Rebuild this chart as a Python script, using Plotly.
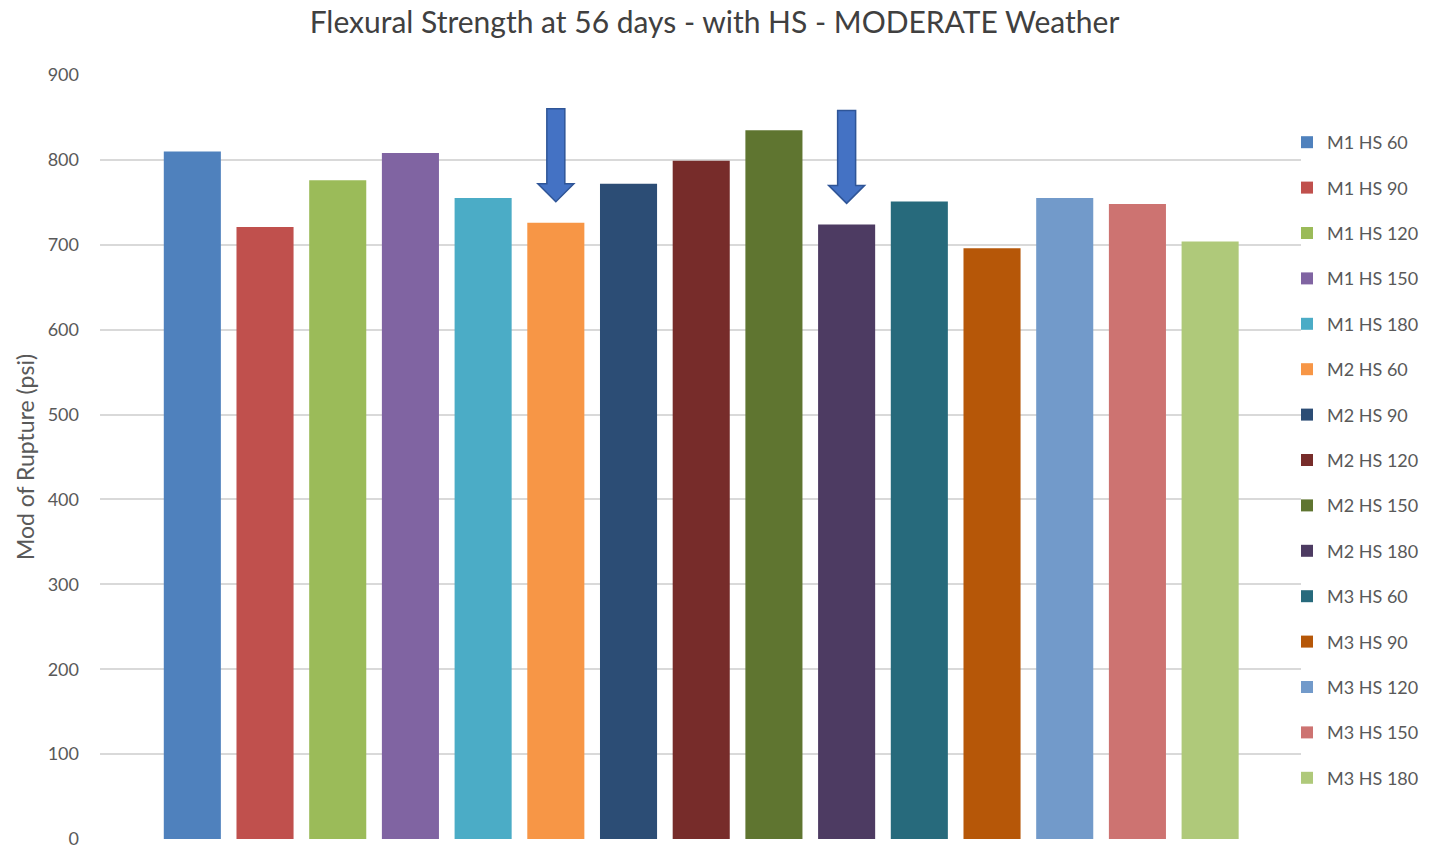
import plotly.graph_objects as go

# Mixes and their 56-day modulus of rupture (psi)
mixes = ["M1 HS 60", "M1 HS 90", "M1 HS 120", "M1 HS 150", "M1 HS 180",
         "M2 HS 60", "M2 HS 90", "M2 HS 120", "M2 HS 150", "M2 HS 180",
         "M3 HS 60", "M3 HS 90", "M3 HS 120", "M3 HS 150", "M3 HS 180"]
rupture_psi = [810, 721, 776, 808, 755,
               726, 772, 799, 835, 724,
               751, 696, 755, 748, 704]
bar_colors = ["#4F81BD", "#C0504D", "#9BBB59", "#8064A2", "#4BACC6",
              "#F79646", "#2C4D75", "#772C2A", "#5F7530", "#4D3B62",
              "#276A7C", "#B65708", "#729ACA", "#CD7371", "#AFC97A"]
highlighted = ["M2 HS 60", "M2 HS 180"]

tick_vals = [0, 100, 200, 300, 400, 500, 600, 700, 800, 900]

FONT = "Lato, 'Open Sans', sans-serif"
GREY = "#595959"

fig = go.Figure()
for name, val, col in zip(mixes, rupture_psi, bar_colors):
    fig.add_trace(go.Bar(
        x=[name], y=[val], name=name, legendgroup=name,
        marker=dict(color=col, line=dict(width=0)),
        width=0.785,
    ))

# Block arrows pointing down at the highlighted bars
arrow_path = "M 0 21 L -18 39 L -9 39 L -9 114 L 9 114 L 9 39 L 18 39 Z"
for name in highlighted:
    val = rupture_psi[mixes.index(name)]
    fig.add_shape(
        type="path", path=arrow_path,
        xref="x", yref="y", xsizemode="pixel", ysizemode="pixel",
        xanchor=name, yanchor=val,
        fillcolor="#4472C4", line=dict(color="#2F5597", width=1.5),
        layer="above",
    )

fig.update_layout(
    width=1429, height=852,
    margin=dict(l=100, r=128, t=75, b=13, autoexpand=False),
    paper_bgcolor="white", plot_bgcolor="white",
    barmode="overlay",
    font=dict(family=FONT, color=GREY),
    title=dict(
        text="Flexural Strength at 56 days - with HS - MODERATE Weather",
        x=0.5, xanchor="center", xref="container",
        y=1 - 22 / 852, yanchor="middle", yref="container",
        font=dict(family=FONT, size=30, color="#404040"),
    ),
    xaxis=dict(
        categoryorder="array", categoryarray=mixes,
        range=[-1.27, 15.25],
        showticklabels=False, showgrid=False, zeroline=False,
        showline=False, fixedrange=True,
    ),
    yaxis=dict(
        range=[0, 900], tickvals=tick_vals,
        showgrid=True, gridcolor="#D9D9D9", gridwidth=1.5,
        zeroline=False, showline=False,
        tickfont=dict(size=18, color=GREY),
        ticklabelstandoff=20,
        title=dict(text="Mod of Rupture (psi)", font=dict(size=23, color=GREY), standoff=6),
    ),
    legend=dict(
        xref="container", yref="container",
        x=1287 / 1429, xanchor="left",
        y=1 - 124 / 852, yanchor="top",
        maxheight=1.0,
        font=dict(size=18, color=GREY),
        tracegroupgap=19, traceorder="grouped",
        bgcolor="rgba(0,0,0,0)",
    ),
    showlegend=True,
)

fig.write_html("out.html")
